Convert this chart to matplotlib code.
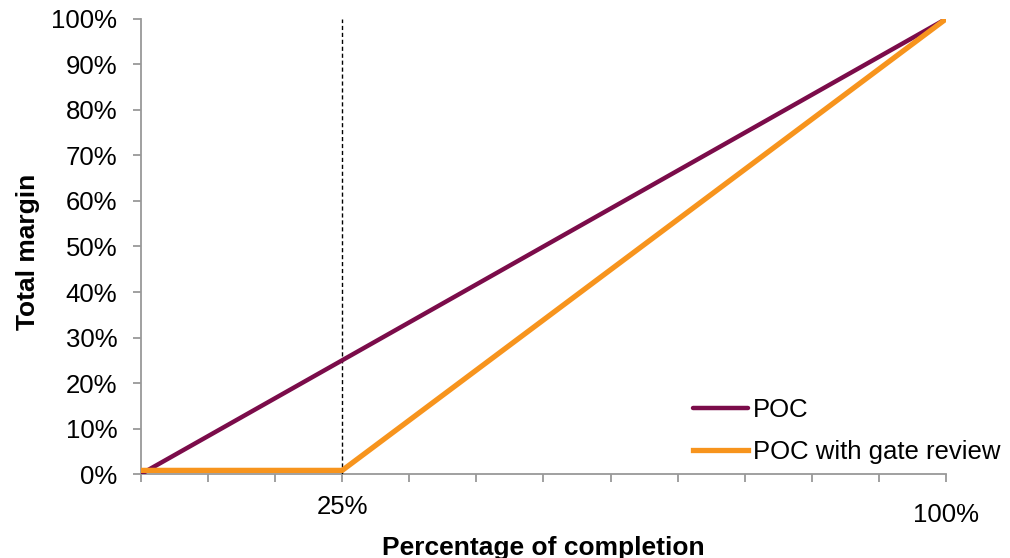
import matplotlib
matplotlib.use('Agg')
import matplotlib.pyplot as plt

plt.rcParams['font.family'] = ['Liberation Sans', 'DejaVu Sans']

# data (percent)
poc_x = [0, 100]
poc_y = [0, 100]
gate_x = [0, 25, 100]
gate_y = [0.8, 0.8, 100]
x_ticks = [i * 100 / 12 for i in range(13)]
x_labels = {3: '25%', 12: '100%'}
y_ticks = list(range(0, 101, 10))

fig = plt.figure(figsize=(10.1, 5.58), dpi=100)
ax = fig.add_axes([0.1396, 0.1505, 0.797, 0.8155])

ax.plot(poc_x, poc_y, color='#7B0C4A', lw=3.2, label='POC', solid_capstyle='round', zorder=3)
ax.plot(gate_x, gate_y, color='#F7941D', lw=3.8, label='POC with gate review', zorder=4)
ax.axvline(25, color='black', lw=1, ls=(0, (3, 2)), zorder=2)

ax.set_xlim(0, 100)
ax.set_ylim(0, 100)
ax.set_xticks(x_ticks)
ax.set_xticklabels([x_labels.get(i, '') for i in range(13)])
ax.set_yticks(y_ticks)
ax.set_yticklabels([f'{v}%' for v in y_ticks])

for s in ['top', 'right']:
    ax.spines[s].set_visible(False)
for s in ['left', 'bottom']:
    ax.spines[s].set_color('#999999')
    ax.spines[s].set_linewidth(1.3)

ax.tick_params(axis='both', colors='#999999', labelcolor='black', labelsize=18.5, width=1.3, length=6)
ax.tick_params(axis='x', pad=9)
ax.tick_params(axis='y', pad=11)
ax.xaxis.get_major_ticks()[12].set_pad(15)

ax.set_xlabel('Percentage of completion', fontsize=19, fontweight='bold', labelpad=6)
ax.set_ylabel('Total margin', fontsize=19, fontweight='bold')
ax.yaxis.set_label_coords(-0.1254, 0.488)

ax.legend(loc='lower left', bbox_to_anchor=(0.686, 0.168), bbox_transform=fig.transFigure,
          frameon=False, fontsize=18.5, borderpad=0, borderaxespad=0,
          handlelength=2.15, handletextpad=0.2, labelspacing=0.7)

for sp in ax.spines.values():
    sp.set_zorder(1)

fig.savefig('out.png', dpi=100)
